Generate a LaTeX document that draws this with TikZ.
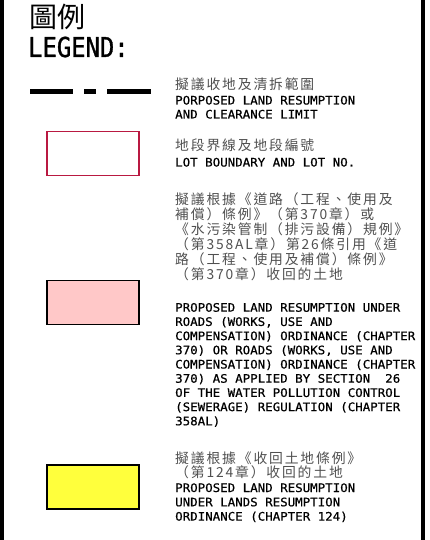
\documentclass[tikz,border=0pt]{standalone}
\usepackage{fontspec}
\newfontfamily\cjk{Noto Sans CJK TC}
\newfontfamily\cjkzh[LetterSpace=13.5]{Noto Sans CJK TC}
\newfontfamily\cad[FakeStretch=1.065,FakeBold=0.6]{DejaVu Sans Mono}
\newfontfamily\cadbig[FakeStretch=0.87,FakeBold=1.2]{DejaVu Sans Mono}
\definecolor{lotred}{RGB}{185,25,65}
\definecolor{pinkfill}{RGB}{255,200,200}
\definecolor{yelfill}{RGB}{255,255,60}
\definecolor{cjkgray}{RGB}{80,80,80}
\tikzset{
  en/.style={anchor=base west, inner sep=0pt, font=\cad\fontsize{11.7}{14}\selectfont},
  zh/.style={anchor=base west, inner sep=0pt, text=cjkgray, font=\cjkzh\fontsize{13.8}{15}\selectfont},
  swatch/.style={minimum width=92pt, minimum height=44pt, inner sep=0pt, draw=black, line width=1.5pt},
  frame/.style={fill=black, draw=none}
}
\begin{document}
\begin{tikzpicture}[x=1pt,y=-1pt]
\useasboundingbox (0,0) rectangle (429,540);
\fill[white] (0,0) rectangle (429,540);
\fill[frame] (0,0) rectangle (4,540);
\fill[frame] (421,0) rectangle (425,540);
% title
\node[anchor=base west, inner sep=0pt, font=\cjk\fontsize{28}{28}\selectfont] (title) at (29,28) {圖例};
\node[anchor=base west, inner sep=0pt, font=\cadbig\fontsize{27.4}{28}\selectfont] (legend) at (28,57) {LEGEND:};
% item 1: dashed limit
\coordinate (d1) at (30,91.5);
\coordinate (d2) at (151,91.5);
\draw[line width=5pt, dash pattern=on 43pt off 11pt on 12pt off 11pt on 44pt] (d1) -- (d2);
\node[zh] (z1) at (175,90) {擬議收地及清拆範圍};
\node[en] (e1a) at (175,104.5) {PORPOSED LAND RESUMPTION};
\node[en] (e1b) at (175,118.5) {AND CLEARANCE LIMIT};
% item 2: lot boundary
\node[swatch, draw=lotred, line width=1.2pt] (lot) at (93,153.5) {};
\node[zh] (z2) at (175,150) {地段界線及地段編號};
\node[en] (e2) at (175,166.5) {LOT BOUNDARY AND LOT NO.};
% item 3: pink
\node[swatch, fill=pinkfill] (pink) at (93,302.5) {};
\node[zh] (z3a) at (175,204) {擬議根據《道路（工程、使用及};
\node[zh] (z3b) at (175,219) {補償）條例》（第370章）或};
\node[zh] (z3c) at (175,234) {《水污染管制（排污設備）規例》};
\node[zh] (z3d) at (175,249) {（第358AL章）第26條引用《道};
\node[zh] (z3e) at (175,264) {路（工程、使用及補償）條例》};
\node[zh] (z3f) at (175,279) {（第370章）收回的土地};
\node[en] (e3a) at (175,311.7) {PROPOSED LAND RESUMPTION UNDER};
\node[en] (e3b) at (175,325.9) {ROADS (WORKS, USE AND};
\node[en] (e3c) at (175,340.1) {COMPENSATION) ORDINANCE (CHAPTER};
\node[en] (e3d) at (175,354.3) {370) OR ROADS (WORKS, USE AND};
\node[en] (e3e) at (175,368.5) {COMPENSATION) ORDINANCE (CHAPTER};
\node[en] (e3f) at (175,382.7) {370) AS APPLIED BY SECTION~~26};
\node[en] (e3g) at (175,396.9) {OF THE WATER POLLUTION CONTROL};
\node[en] (e3h) at (175,411.1) {(SEWERAGE) REGULATION (CHAPTER};
\node[en] (e3i) at (175,425.3) {358AL)};
% item 4: yellow
\node[swatch, fill=yelfill] (yel) at (93,487) {};
\node[zh] (z4a) at (175,463.4) {擬議根據《收回土地條例》};
\node[zh] (z4b) at (175,477.8) {（第124章）收回的土地};
\node[en] (e4a) at (175,492) {PROPOSED LAND RESUMPTION};
\node[en] (e4b) at (175,506.3) {UNDER LANDS RESUMPTION};
\node[en] (e4c) at (175,520.6) {ORDINANCE (CHAPTER 124)};
\end{tikzpicture}
\end{document}
